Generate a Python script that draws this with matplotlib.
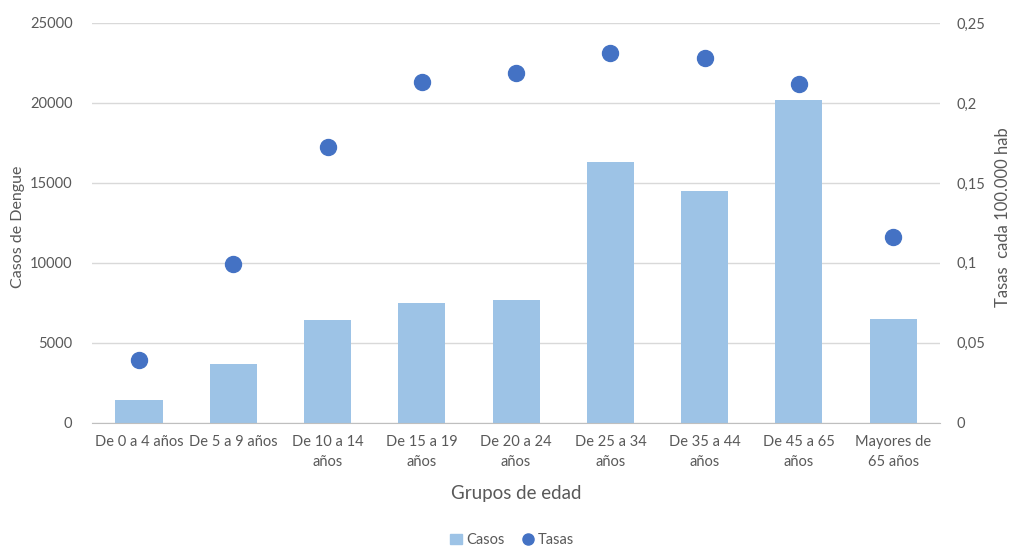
import numpy as np
import matplotlib.pyplot as plt
from matplotlib.lines import Line2D
from matplotlib.patches import Patch

grupos = ["De 0 a 4 años", "De 5 a 9 años", "De 10 a 14\naños", "De 15 a 19\naños",
          "De 20 a 24\naños", "De 25 a 34\naños", "De 35 a 44\naños", "De 45 a 65\naños",
          "Mayores de\n65 años"]
casos = [1430, 3700, 6400, 7500, 7700, 16300, 14500, 20200, 6500]
tasas = [0.039, 0.099, 0.1725, 0.213, 0.219, 0.231, 0.228, 0.212, 0.116]
casos_ticks = [0, 5000, 10000, 15000, 20000, 25000]
tasas_ticks = [0, 0.05, 0.1, 0.15, 0.2, 0.25]
tasas_labels = ["0", "0,05", "0,1", "0,15", "0,2", "0,25"]

plt.rcParams['font.family'] = ['Lato', 'DejaVu Sans']
gris = '#595959'
azul_claro = '#9dc3e6'
azul = '#4472c4'

fig = plt.figure(figsize=(10.1, 5.47), dpi=100)
ax = fig.add_axes([0.091, 0.227, 0.840, 0.731])
x = np.arange(len(grupos))

ax.bar(x, casos, width=0.5, color=azul_claro, zorder=2)
ax.set_ylim(0, 25000)
ax.set_xlim(-0.5, len(grupos) - 0.5)
ax.set_yticks(casos_ticks)
ax.set_yticklabels([str(t) for t in casos_ticks])
ax.grid(axis='y', color='#d9d9d9', linewidth=1, zorder=0)
ax.set_xticks(x)
ax.set_xticklabels(grupos, linespacing=1.55)
for s in ['top', 'right', 'left']:
    ax.spines[s].set_visible(False)
ax.spines['bottom'].set_color('#bfbfbf')
ax.tick_params(axis='both', length=0, colors=gris, labelsize=10.5)
ax.tick_params(axis='x', pad=9)
ax.tick_params(axis='y', pad=14)
ax.set_xlabel("Grupos de edad", color=gris, fontsize=13.5, labelpad=11)
fig.text(0.018, 0.585, "Casos de Dengue", rotation=90, color=gris, fontsize=11.5,
         ha='center', va='center')

ax2 = ax.twinx()
ax2.plot(x, tasas, 'o', color=azul, markersize=11.5, zorder=3)
ax2.set_ylim(0, 0.25)
ax2.set_yticks(tasas_ticks)
ax2.set_yticklabels(tasas_labels)
for s in ax2.spines.values():
    s.set_visible(False)
ax2.tick_params(axis='y', length=0, colors=gris, labelsize=10.5, pad=12)
fig.text(0.993, 0.603, "Tasas  cada 100.000 hab", rotation=90, color=gris, fontsize=12,
         ha='center', va='center')

handles = [Patch(color=azul_claro, label="Casos"),
           Line2D([], [], marker='o', linestyle='', color=azul, markersize=8, label="Tasas")]
fig.legend(handles=handles, loc='center', bbox_to_anchor=(0.507, 0.013), ncol=2,
           frameon=False, fontsize=10.5, labelcolor=gris, handlelength=0.8,
           handletextpad=0.3, columnspacing=1.2)

fig.savefig("out.png", dpi=100)
